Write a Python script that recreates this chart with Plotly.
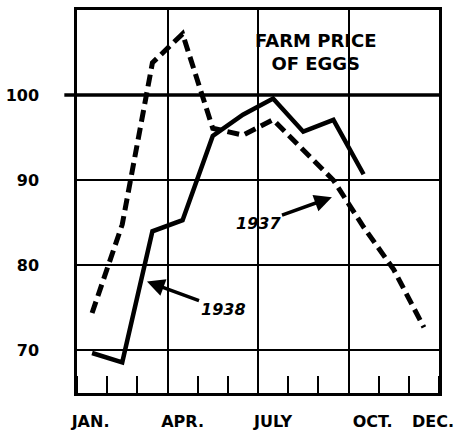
"""Farm price of eggs, 1937 vs 1938 (index, monthly)."""

import plotly.graph_objects as go

MONTHS = list(range(1, 13))
PRICE_1937 = [74.4, 84.8, 103.8, 107.2, 96.1, 95.3, 97.1, 93.5, 90.0, 84.5, 79.5, 72.7]
PRICE_1938 = [69.7, 68.6, 84.0, 85.3, 95.2, 97.7, 99.6, 95.7, 97.1, 90.7]

MONTH_LABELS = ["JAN.", "APR.", "JULY", "OCT.", "DEC."]
MONTH_LABEL_POS = [0.95, 4.0, 7.0, 10.3, 12.3]
Y_TICKS = [70, 80, 90, 100]
BASE = 100

FONT = "DejaVu Sans"

fig = go.Figure()

# 1937 - 점선
fig.add_trace(
    go.Scatter(
        x=MONTHS,
        y=PRICE_1937,
        mode="lines",
        name="1937",
        line={"color": "black", "width": 5, "dash": "12px,6px"},
    )
)

# 1938 - 실선
fig.add_trace(
    go.Scatter(
        x=MONTHS[: len(PRICE_1938)],
        y=PRICE_1938,
        mode="lines",
        name="1938",
        line={"color": "black", "width": 4.5},
    )
)

# 기준선 100
fig.add_hline(y=BASE, x0=-0.035, x1=1, line_color="black", line_width=3.5)

fig.add_annotation(
    x=8.42, y=105.1, text="FARM PRICE<br>OF EGGS", showarrow=False,
    font={"family": FONT, "size": 18, "color": "black", "weight": "bold"},
)
fig.add_annotation(
    x=8.95, y=88.0, ax=6.5, ay=84.9, axref="x", ayref="y",
    text="<b><i>1937</i></b>", showarrow=True,
    arrowhead=2, arrowsize=1, arrowwidth=3.5, arrowcolor="black",
    font={"family": FONT, "size": 16, "color": "black"},
)
fig.add_annotation(
    x=2.82, y=78.1, ax=5.34, ay=74.8, axref="x", ayref="y",
    text="<b><i>1938</i></b>", showarrow=True,
    arrowhead=2, arrowsize=1, arrowwidth=3.5, arrowcolor="black",
    font={"family": FONT, "size": 16, "color": "black"},
)

fig.update_layout(
    width=459,
    height=433,
    margin={"l": 77, "r": 20, "t": 10, "b": 40},
    paper_bgcolor="white",
    plot_bgcolor="white",
    showlegend=False,
    font={"family": FONT, "size": 16, "color": "black"},
    xaxis={
        "range": [0.5, 12.5],
        "tickvals": [3.5, 6.5, 9.5],
        "showticklabels": False,
        "ticks": "",
        "showgrid": True,
        "gridcolor": "black",
        "gridwidth": 2,
        "showline": True,
        "linecolor": "black",
        "linewidth": 2.5,
        "mirror": True,
        "zeroline": False,
        "automargin": False,
        "minor": {
            "tick0": 0.5,
            "dtick": 1,
            "ticks": "inside",
            "ticklen": 17,
            "tickwidth": 2,
            "tickcolor": "black",
            "showgrid": False,
        },
    },
    xaxis2={
        "range": [0.5, 12.5],
        "overlaying": "x",
        "side": "bottom",
        "tickvals": MONTH_LABEL_POS,
        "ticktext": MONTH_LABELS,
        "ticks": "",
        "showgrid": False,
        "zeroline": False,
        "automargin": False,
        "ticklabelstandoff": 17,
        "tickfont": {"family": FONT, "size": 16, "weight": "bold"},
    },
    yaxis={
        "range": [65, 110],
        "tickvals": Y_TICKS,
        "ticks": "",
        "showgrid": True,
        "gridcolor": "black",
        "gridwidth": 2,
        "showline": True,
        "linecolor": "black",
        "linewidth": 2.5,
        "mirror": True,
        "zeroline": False,
        "automargin": False,
        "ticklabelstandoff": 32,
        "tickfont": {"family": FONT, "size": 16, "weight": "bold"},
    },
)

# 라벨 전용 축에 보이지 않는 트레이스
fig.add_trace(go.Scatter(x=[1], y=[BASE], xaxis="x2", mode="markers", marker={"opacity": 0}, hoverinfo="skip"))

fig.write_html(
    "out.html",
    config={"displayModeBar": False},
    post_script="document.body.style.margin='0';",
)
